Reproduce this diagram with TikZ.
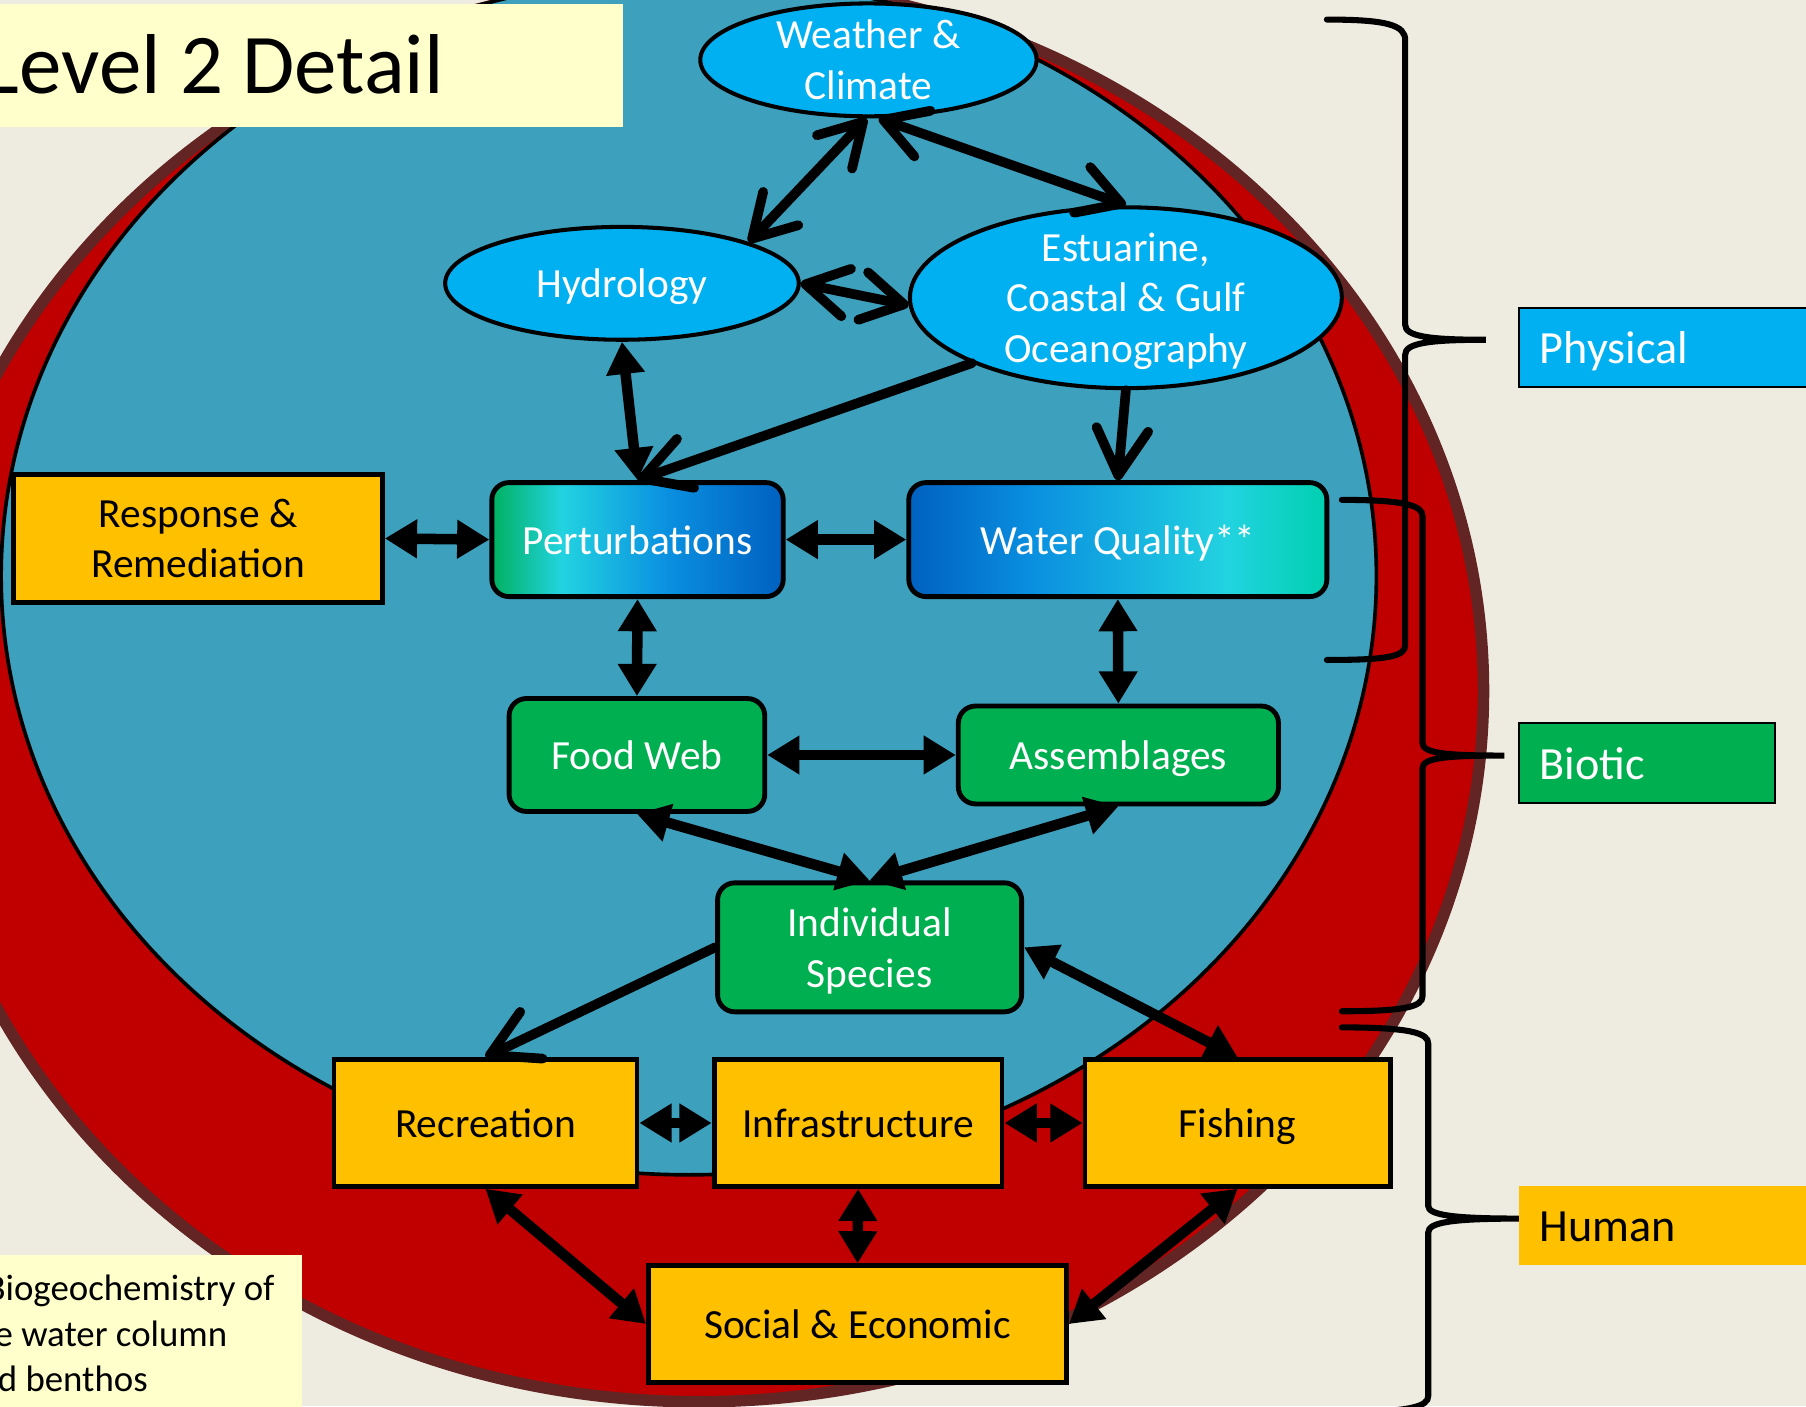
\documentclass[tikz,border=0pt]{standalone}
\usepackage{fontspec}
\setmainfont{Carlito}
\usetikzlibrary{arrows.meta,shapes.geometric}

\definecolor{beige}{HTML}{EEECE1}
\definecolor{ringred}{HTML}{C00000}
\definecolor{ringbrown}{HTML}{632523}
\definecolor{seablue}{HTML}{3DA0BD}
\definecolor{skyfill}{HTML}{00B0F0}
\definecolor{leafgreen}{HTML}{00B050}
\definecolor{gold}{HTML}{FFC000}
\definecolor{paleyellow}{HTML}{FFFFCC}
\definecolor{gradgreen}{HTML}{00B060}
\definecolor{gradcyan}{HTML}{22D3E0}
\definecolor{gradmid}{HTML}{0A90E0}
\definecolor{graddark}{HTML}{0060C0}
\definecolor{gradteal}{HTML}{00D0B0}

\pgfdeclarehorizontalshading{perturbshade}{100bp}{color(0bp)=(gradgreen); color(25bp)=(gradgreen); color(37bp)=(gradcyan); color(55bp)=(gradmid); color(75bp)=(graddark); color(100bp)=(graddark)}
\pgfdeclarehorizontalshading{qualityshade}{100bp}{color(0bp)=(graddark); color(25bp)=(graddark); color(40bp)=(gradmid); color(63bp)=(gradcyan); color(75bp)=(gradteal); color(100bp)=(gradteal)}

\newcommand\diagfont{\fontsize{10.24}{12.5}\selectfont}
\newcommand\tagfont{\fontsize{11.4}{13.7}\selectfont}
\newcommand\headfont{\fontsize{21}{25}\selectfont}
\newcommand\notefont{\fontsize{9.1}{11.2}\selectfont}

\begin{document}
\begin{tikzpicture}[
    oval/.style={ellipse, draw=black, line width=1pt, fill=skyfill, text=white, inner sep=0pt, align=center, font=\diagfont},
    roundbox/.style={rectangle, rounded corners=0.15cm, draw=black, line width=1.2pt, text=white, inner sep=0pt, align=center, font=\diagfont},
    greenbox/.style={roundbox, fill=leafgreen},
    goldbox/.style={rectangle, draw=black, line width=1.2pt, fill=gold, inner sep=0pt, align=center, font=\diagfont},
    oneline/.style={text height=0.25cm, text depth=0pt},
    tagbox/.style={rectangle, anchor=south west, minimum height=0.69cm, inner xsep=0.18cm, align=left, text height=0.28cm, text depth=0pt, font=\tagfont},
    link/.style={line width=2.6pt, {Triangle[length=0.28cm,width=0.32cm]}-{Triangle[length=0.28cm,width=0.32cm]}},
    barbs/.style={line width=2.4pt, line cap=round, {Straight Barb[length=0.36cm,width=0.42cm,round]}-{Straight Barb[length=0.36cm,width=0.42cm,round]}},
    barbto/.style={line width=2.4pt, line cap=round, -{Straight Barb[length=0.4cm,width=0.45cm,round]}},
    bracket/.style={line width=1.5pt, line cap=round}
  ]
  \path[use as bounding box] (0,0) rectangle (15.68,12.21);
  \clip (0,0) rectangle (15.68,12.21);
  \fill[beige] (0,0) rectangle (15.68,12.21);

  % rings
  \draw[ringbrown, fill=ringred, line width=0.1cm] (6.07,6.21) ellipse [x radius=6.81cm, y radius=6.17cm];
  \draw[black, fill=seablue, line width=0.9pt] (5.98,7.21) ellipse [x radius=5.97cm, y radius=5.20cm];

  % text panels
  \fill[paleyellow] (-0.1,11.11) rectangle (5.41,12.175);
  \node[anchor=base east, inner sep=0pt, font=\headfont] (title) at (3.86,11.40) {Level 2 Detail};
  \fill[paleyellow] (-0.1,-0.1) rectangle (2.62,1.31);
  \node[anchor=base east, inner sep=0pt, font=\notefont] (note1) at (2.39,0.92) {Biogeochemistry of};
  \node[anchor=base east, inner sep=0pt, font=\notefont] (note2) at (1.98,0.52) {the water column};
  \node[anchor=base east, inner sep=0pt, font=\notefont] (note3) at (1.29,0.13) {and benthos};

  % braces
  \draw[bracket] (11.52,12.04) .. controls (12.05,12.04) and (12.20,11.99) .. (12.20,11.86) -- (12.20,9.39)
    .. controls (12.20,9.29) and (12.40,9.26) .. (12.90,9.26)
    .. controls (12.40,9.26) and (12.20,9.23) .. (12.20,9.13) -- (12.20,6.61)
    .. controls (12.20,6.51) and (12.05,6.48) .. (11.52,6.48);
  \draw[bracket] (11.65,7.87) .. controls (12.20,7.87) and (12.35,7.82) .. (12.35,7.73) -- (12.35,5.76)
    .. controls (12.35,5.67) and (12.55,5.65) .. (13.06,5.65)
    .. controls (12.55,5.65) and (12.35,5.63) .. (12.35,5.54) -- (12.35,3.56)
    .. controls (12.35,3.47) and (12.20,3.43) .. (11.65,3.43);
  \draw[bracket] (11.65,3.29) .. controls (12.25,3.29) and (12.40,3.24) .. (12.40,3.15) -- (12.40,1.74)
    .. controls (12.40,1.66) and (12.62,1.63) .. (13.20,1.63)
    .. controls (12.62,1.63) and (12.40,1.60) .. (12.40,1.51) -- (12.40,0.09)
    .. controls (12.40,0.00) and (12.25,-0.05) .. (11.65,-0.05);

  % group labels
  \node[tagbox, fill=skyfill, draw=black, line width=0.5pt, text=white, text width=2.2cm] (physical) at (13.18,8.84) {Physical};
  \node[tagbox, fill=leafgreen, draw=black, line width=0.5pt, text=white, text width=1.86cm] (biotic) at (13.18,5.23) {Biotic};
  \node[tagbox, fill=gold, text width=2.2cm] (human) at (13.18,1.22) {Human};

  % physical
  \node[oval, minimum width=2.92cm, minimum height=0.98cm, inner ysep=-0.08cm] (weather) at (7.54,11.69) {Weather \&\\Climate};
  \node[oval, oneline, minimum width=3.07cm, minimum height=0.98cm] (hydro) at (5.40,9.75) {Hydrology};
  \node[oval, minimum width=3.75cm, minimum height=1.57cm, inner ysep=-0.14cm, text depth=0pt] (estuary) at (9.775,9.625) {Estuarine,\\Coastal \& Gulf\\Oceanography};

  % middle row
  \node[goldbox, minimum width=3.20cm, minimum height=1.11cm] (response) at (1.72,7.535) {Response \&\\Remediation};
  \node[roundbox, oneline, shade, shading=perturbshade, minimum width=2.53cm, minimum height=0.99cm] (perturb) at (5.535,7.525) {Perturbations};
  \node[roundbox, oneline, shade, shading=qualityshade, minimum width=3.63cm, minimum height=0.99cm] (quality) at (9.705,7.525) {Water Quality**};

  % biotic
  \node[greenbox, oneline, minimum width=2.22cm, minimum height=0.98cm] (foodweb) at (5.53,5.655) {Food Web};
  \node[greenbox, oneline, minimum width=2.78cm, minimum height=0.85cm] (assemb) at (9.71,5.655) {Assemblages};
  \node[greenbox, minimum width=2.64cm, minimum height=1.12cm, text depth=0pt] (species) at (7.55,3.985) {Individual\\Species};

  % human
  \node[goldbox, oneline, minimum width=2.63cm, minimum height=1.10cm] (recreation) at (4.215,2.46) {Recreation};
  \node[goldbox, oneline, minimum width=2.50cm, minimum height=1.10cm] (infra) at (7.45,2.46) {Infrastructure};
  \node[goldbox, oneline, minimum width=2.65cm, minimum height=1.10cm] (fishing) at (10.745,2.46) {Fishing};
  \node[goldbox, oneline, minimum width=3.63cm, minimum height=1.01cm] (social) at (7.445,0.715) {Social \& Economic};

  % links
  \draw[barbs] (hydro.18) -- (weather.-92);
  \draw[barbs] (weather.-80) -- (estuary.north);
  \draw[barbs] (hydro.east) -- (estuary.182);
  \draw[link] (hydro.south) -- (perturb.north);
  \draw[barbto] (estuary.203) -- (perturb.north);
  \draw[barbto] (estuary.south) -- (quality.north);
  \draw[link] (response.east) -- (perturb.west);
  \draw[link] (perturb.east) -- (quality.west);
  \draw[link] (perturb.south) -- (foodweb.north);
  \draw[link] (quality.south) -- (assemb.north);
  \draw[link] (foodweb.east) -- (assemb.west);
  \draw[link] (foodweb.south) -- (species.north);
  \draw[link] (assemb.south) -- (species.north);
  \draw[barbto] (species.west) -- (recreation.north);
  \draw[link] (species.east) -- (fishing.north);
  \draw[link] (recreation.east) -- (infra.west);
  \draw[link] (infra.east) -- (fishing.west);
  \draw[link] (infra.south) -- (social.north);
  \draw[link] (recreation.south) -- (social.west);
  \draw[link] (fishing.south) -- (social.east);
\end{tikzpicture}
\end{document}
